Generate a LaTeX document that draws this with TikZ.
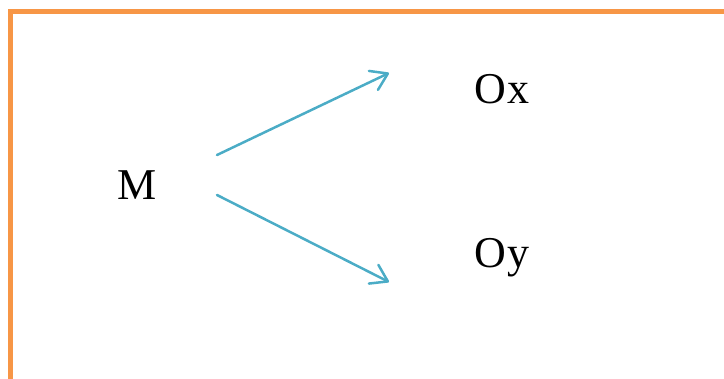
\documentclass[tikz,border=0pt]{standalone}
\usepackage{fontspec}
\setmainfont{Liberation Serif}
\usetikzlibrary{arrows.meta}
\definecolor{frameorange}{HTML}{F79646}
\definecolor{arrowblue}{HTML}{4BACC6}
\begin{document}
\begin{tikzpicture}[x=1pt,y=1pt,
  lbl/.style={font=\fontsize{44}{50}\selectfont, inner sep=0pt, anchor=base west},
  conn/.style={draw=arrowblue, line width=2.5pt, line cap=round, line join=round,
    -{Straight Barb[length=16pt,width=21pt,line cap=round,line join=round]}}]
\useasboundingbox (0,0) rectangle (724,379);
\begin{scope}
\clip (0,0) rectangle (724,379);
\draw[frameorange, line width=5pt] (10.5,-2.3) rectangle (740,367.5);
\end{scope}
\node[lbl] (M) at (117,179) {M};
\node[lbl] (Ox) at (474,275) {O\kern2pt x};
\node[lbl] (Oy) at (474,111) {O\kern2pt y};
\coordinate (s1) at (217,224);
\coordinate (s2) at (217,184);
\coordinate (e1) at (389,306);
\coordinate (e2) at (389,97);
\draw[conn] (s1) -- (e1);
\draw[conn] (s2) -- (e2);
\end{tikzpicture}
\end{document}
